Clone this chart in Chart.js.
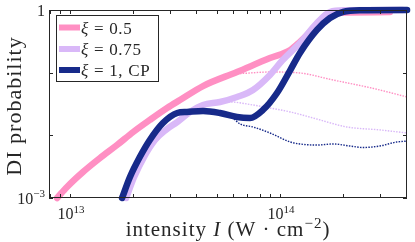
<!DOCTYPE html>
<html>
<head>
<meta charset="utf-8">
<script src="https://cdn.jsdelivr.net/npm/chart.js@4.4.0/dist/chart.umd.min.js"></script>
<style>
  html, body { margin: 0; padding: 0; background: #fff; }
  canvas { display: block; }
</style>
</head>
<body>
<canvas id="diChart" width="415" height="242"></canvas>
<script>
// intensity (W/cm^2) and DI probability
const pinkIntensity = [8.68e12, 9.68e12, 1.153e13, 1.39e13, 1.675e13, 2.0e13, 2.4e13, 2.9e13, 3.34e13, 4.3e13, 6.24e13, 8.96e13, 1.12e14, 1.245e14, 1.44e14, 1.64e14, 1.86e14, 2.08e14, 3.34e14];
const pinkProb = [1e-3, 1.5e-3, 2.6e-3, 4.35e-3, 7.0e-3, 1.13e-2, 1.76e-2, 2.73e-2, 3.66e-2, 6.12e-2, 0.1025, 0.171, 0.23, 0.31, 0.5, 0.76, 0.9, 0.91, 0.93];

const lavIntensity = [1.85e13, 2.02e13, 2.25e13, 2.54e13, 2.86e13, 3.24e13, 3.73e13, 4.3e13, 5.18e13, 6.24e13, 7.44e13, 8.96e13, 1.03e14, 1.245e14, 1.5e14, 1.73e14, 2.04e14, 3.85e14];
const lavProb = [1e-3, 2.16e-3, 4.5e-3, 8.43e-3, 1.22e-2, 1.63e-2, 2.36e-2, 3.05e-2, 3.4e-2, 4.09e-2, 5.29e-2, 9.18e-2, 0.159, 0.297, 0.62, 0.93, 0.99, 1];

const navyIntensity = [1.77e13, 1.93e13, 2.15e13, 2.4e13, 2.77e13, 3.24e13, 3.61e13, 4.3e13, 5.18e13, 6.24e13, 7.2e13, 8.3e13, 9.68e13, 1.12e14, 1.245e14, 1.5e14, 1.73e14, 2.0e14, 2.4e14, 4.03e14];
const navyProb = [1e-3, 2.16e-3, 4.5e-3, 8.43e-3, 1.57e-2, 2.27e-2, 2.36e-2, 2.45e-2, 2.27e-2, 1.96e-2, 1.89e-2, 2.54e-2, 4.74e-2, 0.11, 0.206, 0.48, 0.745, 0.93, 0.99, 1];

// thin dotted companions
const pinkDotIntensity = [4.3e13, 5.78e13, 7.2e13, 8.96e13, 1.245e14, 1.79e14, 2.6e14, 2.99e14, 4.03e14];
const pinkDotProb = [6.12e-2, 9.18e-2, 9.88e-2, 0.1025, 0.0988, 0.0764, 0.059, 0.0529, 0.0409];

const lavDotIntensity = [5.18e13, 5.78e13, 7.44e13, 8.96e13, 1.12e14, 1.44e14, 2.08e14, 2.99e14, 4.03e14];
const lavDotProb = [3.4e-2, 3.4e-2, 3.05e-2, 2.73e-2, 2.36e-2, 1.89e-2, 1.36e-2, 1.22e-2, 1.09e-2];

const navyDotIntensity = [5.78e13, 6.46e13, 7.44e13, 8.96e13, 1.12e14, 1.245e14, 1.5e14, 1.79e14, 2.15e14, 2.48e14, 2.99e14, 3.6e14, 4.03e14];
const navyDotProb = [2.11e-2, 1.52e-2, 1.36e-2, 1.09e-2, 7.83e-3, 7.28e-3, 7.0e-3, 7.28e-3, 6.76e-3, 6.4e-3, 6.76e-3, 7.83e-3, 8.1e-3];

const seriesLabels = ["ξ = 0.5", "ξ = 0.75", "ξ = 1, CP"];
const xTickValues = [8e12, 9e12, 1e13, 2e13, 3e13, 4e13, 5e13, 6e13, 7e13, 8e13, 9e13, 1e14, 2e14, 3e14, 4e14];
const xTickLabels = [[1e13, "10", "13"], [1e14, "10", "14"]];
const yTickValues = [1e-3, 1e-2, 1e-1, 1];
const yTickLabels = [[1, "1", ""], [1e-3, "10", "−3"]];

const PINK = "#ff8fc3", LAV = "#d9b8f8", NAVY = "#172a8a", AXIS = "#262626";
const SERIF = "'Liberation Serif', 'DejaVu Serif', serif";

const pts = (xs, ys) => xs.map((v, i) => ({ x: v, y: ys[i] }));

const thick = (label, color, xs, ys) => ({
  label, data: pts(xs, ys), borderColor: color, borderWidth: 6.5,
  borderCapStyle: "round", borderJoinStyle: "round",
  pointRadius: 0, cubicInterpolationMode: "monotone", clip: 6
});
const dotted = (color, xs, ys) => ({
  label: "", data: pts(xs, ys), borderColor: color, borderWidth: 1.4,
  borderDash: [1.5, 1.3], pointRadius: 0, cubicInterpolationMode: "monotone"
});

// draw a run of [text, style] pieces; style: "" | "i" (italic) | "sup"
function pieces(ctx, parts, size, x, y, align, spacing) {
  const fontOf = st => (st === "i" ? "italic " : "") + (st === "sup" ? Math.round(size * 0.7) : size) + "px " + SERIF;
  ctx.letterSpacing = (spacing || 0) + "px";
  let total = 0;
  const widths = parts.map(([t, st]) => { ctx.font = fontOf(st); const w = ctx.measureText(t).width; total += w; return w; });
  let cx = align === "center" ? x - total / 2 : align === "right" ? x - total : x;
  ctx.textAlign = "left";
  ctx.textBaseline = "alphabetic";
  parts.forEach(([t, st], i) => {
    ctx.font = fontOf(st);
    ctx.fillText(t, cx, st === "sup" ? y - size * 0.4 : y);
    cx += widths[i];
  });
  ctx.letterSpacing = "0px";
}

// box, inward ticks, tick labels, titles and legend, MATLAB style
const frame = {
  id: "frame",
  afterDatasetsDraw(chart) {
    const { ctx, chartArea: a, scales: { x, y } } = chart;
    ctx.save();
    ctx.strokeStyle = AXIS;
    ctx.lineWidth = 1;
    ctx.beginPath();
    xTickValues.forEach(v => {
      const px = Math.round(x.getPixelForValue(v)) + 0.5;
      ctx.moveTo(px, a.bottom); ctx.lineTo(px, a.bottom - 4);
      ctx.moveTo(px, a.top); ctx.lineTo(px, a.top + 4);
    });
    yTickValues.forEach(v => {
      const py = Math.round(y.getPixelForValue(v)) + 0.5;
      ctx.moveTo(a.left, py); ctx.lineTo(a.left + 4, py);
      ctx.moveTo(a.right, py); ctx.lineTo(a.right - 4, py);
    });
    ctx.stroke();
    ctx.strokeRect(Math.round(a.left) + 0.5, Math.round(a.top) + 0.5,
      Math.round(a.right - a.left) - 1, Math.round(a.bottom - a.top) - 1);

    ctx.fillStyle = AXIS;
    xTickLabels.forEach(([v, base, exp]) => {
      pieces(ctx, [[base, ""], [exp, "sup"]], 16, x.getPixelForValue(v) + 1, a.bottom + 21, "center");
    });
    yTickLabels.forEach(([v, base, exp]) => {
      pieces(ctx, [[base, ""], [exp, "sup"]], 16, a.left - 4, y.getPixelForValue(v) + 5.5, "right");
    });

    // axis titles
    pieces(ctx, [["intensity ", ""], ["I", "i"], [" (W · cm", ""], ["−2", "sup"], [")", ""]],
      21, (a.left + a.right) / 2, 236, "center", 1);
    ctx.save();
    ctx.translate(21, (a.top + a.bottom) / 2 + 2);
    ctx.rotate(-Math.PI / 2);
    pieces(ctx, [["DI probability", ""]], 22, 0, 0, "center", 1);
    ctx.restore();

    // legend
    const bx = 56.5, by = 15.5, bw = 102, bh = 66;
    ctx.fillStyle = "#fff";
    ctx.fillRect(bx, by, bw, bh);
    ctx.strokeStyle = AXIS;
    ctx.lineWidth = 1;
    ctx.strokeRect(bx, by, bw, bh);
    const colors = [PINK, LAV, NAVY];
    const rows = [27.5, 49, 70];
    seriesLabels.forEach((lab, i) => {
      ctx.strokeStyle = colors[i];
      ctx.lineWidth = 6;
      ctx.beginPath();
      ctx.moveTo(59, rows[i]); ctx.lineTo(80, rows[i]);
      ctx.stroke();
      ctx.fillStyle = AXIS;
      pieces(ctx, [[lab[0], "i"], [lab.slice(1), ""]], 17, 81, rows[i] + 6, "left", 0.7);
    });
    ctx.restore();
  }
};

new Chart(document.getElementById("diChart"), {
  type: "line",
  data: {
    datasets: [
      thick(seriesLabels[2], NAVY, navyIntensity, navyProb),
      thick(seriesLabels[1], LAV, lavIntensity, lavProb),
      thick(seriesLabels[0], PINK, pinkIntensity, pinkProb),
      dotted(PINK, pinkDotIntensity, pinkDotProb),
      dotted(LAV, lavDotIntensity, lavDotProb),
      dotted(NAVY, navyDotIntensity, navyDotProb)
    ]
  },
  options: {
    responsive: false,
    animation: false,
    devicePixelRatio: 1,
    layout: { padding: { top: 10, right: 8, left: 0, bottom: 0 } },
    plugins: { legend: { display: false }, tooltip: { enabled: false } },
    scales: {
      x: {
        type: "logarithmic",
        min: Math.pow(10, 12.9),
        max: Math.pow(10, 14.605),
        afterBuildTicks: s => { s.ticks = xTickValues.map(v => ({ value: v })); },
        afterFit: s => { s.height = 44; },
        grid: { display: false, drawTicks: false },
        border: { display: false },
        ticks: { display: false }
      },
      y: {
        type: "logarithmic",
        min: 1e-3,
        max: 1,
        afterBuildTicks: s => { s.ticks = yTickValues.map(v => ({ value: v })); },
        afterFit: s => { s.width = 49; },
        grid: { display: false, drawTicks: false },
        border: { display: false },
        ticks: { display: false }
      }
    }
  },
  plugins: [frame]
});
</script>
</body>
</html>
